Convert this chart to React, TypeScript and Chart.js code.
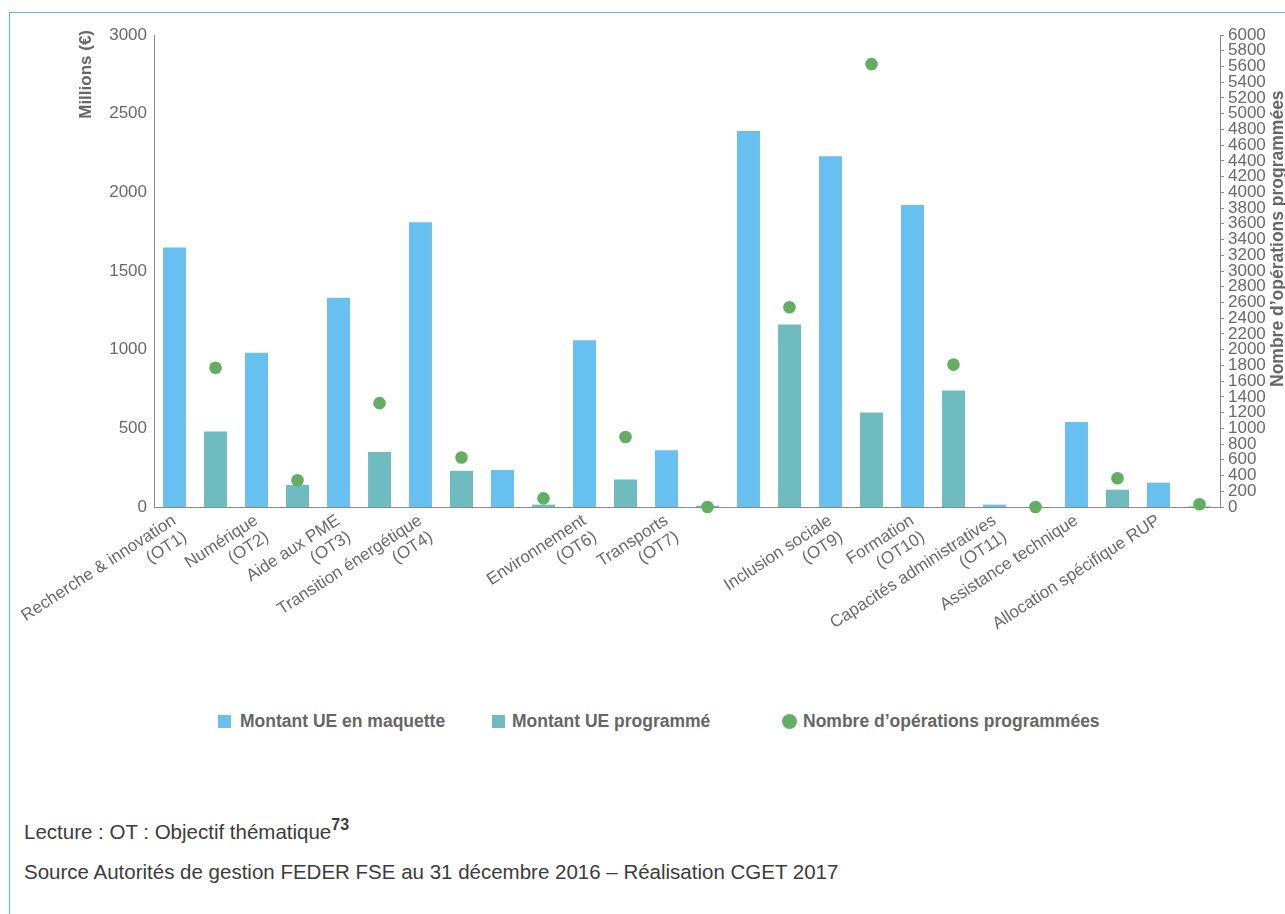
import React, { useEffect, useRef } from 'react';
import { Chart, registerables } from 'chart.js';

Chart.register(...registerables);

// ---- Data ----
const categories: (string | string[])[] = [
  ['Recherche & innovation', '(OT1)'],
  ['Numérique', '(OT2)'],
  ['Aide aux PME', '(OT3)'],
  ['Transition énergétique', '(OT4)'],
  '',
  ['Environnement', '(OT6)'],
  ['Transports', '(OT7)'],
  '',
  ['Inclusion sociale', '(OT9)'],
  ['Formation', '(OT10)'],
  ['Capacités administratives', '(OT11)'],
  'Assistance technique',
  'Allocation spécifique RUP',
];

// Millions €
const montantMaquette = [1650, 980, 1330, 1810, 235, 1060, 360, 2390, 2230, 1920, 15, 540, 155];
const montantProgramme = [480, 140, 350, 230, 15, 175, 8, 1160, 600, 740, 0, 110, 4];
// Number of operations
const nbOperations = [1770, 340, 1320, 630, 110, 890, 0, 2540, 5630, 1810, 0, 365, 35];

const seriesNames = ['Montant UE en maquette', 'Montant UE programmé', 'Nombre d’opérations programmées'];
const leftAxisTitle = 'Millions (€)';
const rightAxisTitle = 'Nombre d’opérations programmées';
const leftTicks = { min: 0, max: 3000, step: 500 };
const rightTicks = { min: 0, max: 6000, step: 200 };

const BLUE = '#67c0ef';
const TEAL = '#6fbcc0';
const GREEN = '#64ae64';
const AXIS = '#8a8a8a';
const TEXT = '#6a6a6a';
const FONT = '"Liberation Sans", Arial, Helvetica, sans-serif';

export default function App() {
  const ref = useRef<HTMLCanvasElement>(null);

  useEffect(() => {
    if (!ref.current) return;
    const slotLabels: (string | string[])[] = [];
    const blue: (number | null)[] = [];
    const teal: (number | null)[] = [];
    const dots: (number | null)[] = [];
    categories.forEach((c, i) => {
      slotLabels.push(c, '');
      blue.push(montantMaquette[i], null);
      teal.push(null, montantProgramme[i]);
      dots.push(null, nbOperations[i]);
    });

    const titlePlugin = {
      id: 'axisTitles',
      afterDraw(chart: any) {
        const ctx = chart.ctx;
        ctx.save();
        ctx.fillStyle = '#666';
        ctx.font = 'bold 17px ' + FONT;
        ctx.translate(86, 30);
        ctx.rotate(-Math.PI / 2);
        ctx.textAlign = 'right';
        ctx.textBaseline = 'middle';
        ctx.fillText(leftAxisTitle, 0, 0);
        ctx.restore();

        ctx.save();
        ctx.fillStyle = '#666';
        ctx.font = 'bold 17.5px ' + FONT;
        ctx.translate(1278, 387);
        ctx.rotate(-Math.PI / 2);
        ctx.textAlign = 'left';
        ctx.textBaseline = 'middle';
        ctx.fillText(rightAxisTitle, 0, 0);
        ctx.restore();
      },
    };

    Chart.defaults.font.family = FONT;
    const plain = (v: any) => String(v);

    const chart = new Chart(ref.current, {
      type: 'bar',
      data: {
        labels: slotLabels,
        datasets: [
          {
            type: 'line',
            label: seriesNames[2],
            data: dots,
            yAxisID: 'y1',
            showLine: false,
            pointRadius: 6.3,
            pointBorderWidth: 0,
            pointBackgroundColor: GREEN,
            backgroundColor: GREEN,
            borderColor: GREEN,
            clip: false,
            order: 0,
          } as any,
          {
            label: seriesNames[0],
            data: blue,
            backgroundColor: BLUE,
            yAxisID: 'y',
            grouped: false,
            barPercentage: 0.56,
            categoryPercentage: 1,
            order: 1,
          },
          {
            label: seriesNames[1],
            data: teal,
            backgroundColor: TEAL,
            yAxisID: 'y',
            grouped: false,
            barPercentage: 0.56,
            categoryPercentage: 1,
            order: 2,
          },
        ],
      },
      options: {
        responsive: false,
        animation: false,
        devicePixelRatio: 1,
        layout: { padding: { top: 35, left: 0, right: 0, bottom: 0 } },
        plugins: { legend: { display: false }, tooltip: { enabled: false } },
        scales: {
          x: {
            offset: true,
            grid: { display: false, drawTicks: false },
            border: { display: true, color: AXIS, width: 1 },
            ticks: {
              autoSkip: false,
              maxRotation: 33,
              minRotation: 33,
              padding: 4,
              labelOffset: 0,
              color: TEXT,
              font: { size: 17, lineHeight: 1.15 },
            },
            afterFit(scale: any) {
              scale.height = 193;
            },
          },
          y: {
            position: 'left',
            min: leftTicks.min,
            max: leftTicks.max,
            grid: { display: false, drawTicks: false },
            border: { display: true, color: AXIS, width: 1 },
            ticks: { stepSize: leftTicks.step, padding: 7, color: TEXT, font: { size: 17 }, callback: plain },
            afterFit(scale: any) {
              scale.width = 154;
            },
          },
          y1: {
            position: 'right',
            min: rightTicks.min,
            max: rightTicks.max,
            grid: { display: true, drawOnChartArea: false, drawTicks: true, tickLength: 4, color: AXIS },
            border: { display: true, color: AXIS, width: 1 },
            ticks: { stepSize: rightTicks.step, autoSkip: false, padding: 4, color: TEXT, font: { size: 17 }, callback: plain },
            afterFit(scale: any) {
              scale.width = 65;
            },
          },
        },
      },
      plugins: [titlePlugin],
    });
    return () => chart.destroy();
  }, []);

  const legendText: React.CSSProperties = {
    position: 'absolute',
    top: 711,
    fontFamily: FONT,
    fontWeight: 'bold',
    fontSize: 17.5,
    lineHeight: '20px',
    color: '#666',
    whiteSpace: 'nowrap',
  };
  const footer: React.CSSProperties = {
    position: 'absolute',
    left: 24,
    fontFamily: FONT,
    fontSize: 20.5,
    lineHeight: '24px',
    color: '#3c3c3c',
    whiteSpace: 'nowrap',
  };

  return (
    <div style={{ position: 'absolute', left: 0, top: 0, width: 1285, height: 914, overflow: 'hidden', background: '#fff' }}>
      <div
        style={{
          position: 'absolute',
          left: 9,
          top: 12,
          width: 1400,
          height: 1000,
          borderLeft: '1px solid #58bfe4',
          borderTop: '1px solid #58bfe4',
        }}
      />
      <canvas ref={ref} width={1285} height={700} style={{ position: 'absolute', left: 0, top: 0, width: 1285, height: 700 }} />

      <div style={{ position: 'absolute', left: 218, top: 715, width: 13, height: 13, background: BLUE }} />
      <div style={{ ...legendText, left: 240 }}>{seriesNames[0]}</div>
      <div style={{ position: 'absolute', left: 492, top: 715, width: 13, height: 13, background: TEAL }} />
      <div style={{ ...legendText, left: 512 }}>{seriesNames[1]}</div>
      <div style={{ position: 'absolute', left: 782, top: 714, width: 15, height: 15, borderRadius: '50%', background: GREEN }} />
      <div style={{ ...legendText, left: 803 }}>{seriesNames[2]}</div>

      <div style={{ ...footer, top: 820 }}>
        Lecture : OT : Objectif thématique
        <span style={{ fontSize: 16, fontWeight: 'bold', position: 'relative', top: -9, marginLeft: 0 }}>73</span>
      </div>
      <div style={{ ...footer, top: 860 }}>
        Source Autorités de gestion FEDER FSE au 31 décembre 2016 – Réalisation CGET 2017
      </div>
    </div>
  );
}
